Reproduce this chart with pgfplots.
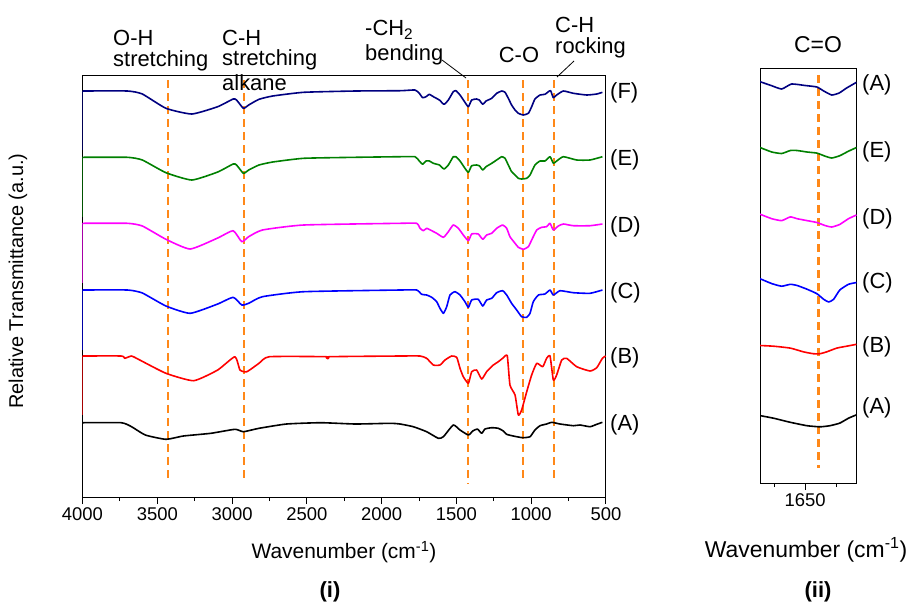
\documentclass[border=0pt]{standalone}
\usepackage{pgfplots}
\pgfplotsset{compat=1.18}
\usepackage{fontspec}
\setmainfont{Liberation Sans}
\definecolor{cF}{RGB}{0,0,128}
\definecolor{cE}{RGB}{0,128,0}
\definecolor{cD}{RGB}{255,0,255}
\definecolor{cC}{RGB}{0,0,255}
\definecolor{cB}{RGB}{255,0,0}
\definecolor{cA}{RGB}{0,0,0}
\definecolor{dorange}{RGB}{255,136,24}
\pgfplotsset{
  every axis/.append style={line width=1bp},
  spec/.style={line width=1.6bp, line join=round, smooth, tension=0.3},
  drop/.style={line width=1.6bp},
  peak/.style={dorange, line width=2.2bp, dash pattern=on 8bp off 5bp},
  tick label style={font=\fontsize{18.5}{18.5}\selectfont},
  /pgf/number format/assume math mode=true,
}
\begin{document}
\begin{tikzpicture}
\path[use as bounding box] (0,0) rectangle (914bp,-607bp);
% ---------- panel (i) ----------
\begin{axis}[at={(82.5bp,-75bp)}, anchor=north west, scale only axis,
  width=523.5bp, height=422bp,
  x dir=reverse, xmin=500, xmax=4000,
  y dir=reverse, ymin=75, ymax=497,
  xtick={500,1000,...,4000}, minor x tick num=1,
  xticklabel style={/pgf/number format/1000 sep={}},
  ytick=\empty, xtick pos=left, tick align=outside,
  major tick length=7bp, minor tick length=4bp,
  every tick/.style={black, line width=1bp}]
\addplot[peak] coordinates {(3430,80) (3430,479)};
\addplot[peak] coordinates {(2920,80) (2920,479)};
\addplot[peak] coordinates {(1420,80) (1420,484)};
\addplot[peak] coordinates {(1057,80) (1057,482)};
\addplot[peak] coordinates {(848,80) (848,482)};
% left-edge drops
\addplot[drop, cF] coordinates {(3999,150) (3999,91)};
\addplot[drop, cE] coordinates {(3999,217) (3999,157.3)};
\addplot[drop, cD] coordinates {(3999,283) (3999,223.3)};
\addplot[drop, cC] coordinates {(3999,350) (3999,290)};
\addplot[drop, cB] coordinates {(3999,415) (3999,356)};
\addplot[drop, cA] coordinates {(3999,482) (3999,422.7)};
% F
\addplot[spec, cF] coordinates {(3999,91) (3700,91) (3600,94) (3442,108.3) (3269,114) (3096,106.7) (2993,99) (2970,100) (2924,108.3) (2889,105) (2820,99.3) (2728,96) (2521,92.3) (2175,91) (1877,90.7) (1777,90) (1748,93.3) (1726,97.7) (1703,96.7) (1681,94.3) (1654,96.7) (1614,100) (1583,104.3) (1554,100) (1521,91.7) (1503,90.7) (1476,95) (1443,102.3) (1420,106.7) (1398,100) (1365,99) (1347,100) (1324,104.3) (1302,101) (1264,98.3) (1231,93.3) (1197,91) (1175,92.3) (1153,98.3) (1131,105) (1108,110) (1086,113.3) (1053,115) (1019,113.3) (997,106.7) (975,99) (941,95) (908,94.3) (885,91.7) (870,90.7) (852,97.7) (830,95) (785,91) (718,93.3) (629,95) (562,94) (524,92.3)};
% E
\addplot[spec, cE] coordinates {(3999,157.3) (3700,157.3) (3600,160) (3442,172.7) (3269,180) (3096,172) (2993,164) (2970,165) (2924,173.3) (2889,170) (2820,165) (2728,162) (2521,158.3) (2175,157.3) (1877,156.7) (1777,156.7) (1748,161) (1726,164.3) (1703,161) (1681,161) (1654,163.3) (1614,165) (1583,169) (1554,165) (1521,156.7) (1503,156.7) (1476,161) (1443,168.3) (1420,172.3) (1398,165.7) (1365,165) (1347,165.7) (1324,170) (1302,166.7) (1264,163.3) (1231,160) (1197,156.7) (1175,158.3) (1153,165) (1131,171.7) (1108,175) (1086,178.3) (1064,179) (1030,178.3) (1008,175) (975,165) (941,161) (908,161) (874,156.7) (852,163.3) (830,161) (785,156.7) (696,160) (607,160) (524,156.7)};
% D
\addplot[spec, cD] coordinates {(3999,223.3) (3700,223.3) (3600,226) (3442,239.3) (3280,249) (3096,238) (2993,230.7) (2935,241.7) (2889,236.7) (2797,230) (2521,225) (1877,223.3) (1766,223.3) (1743,228.3) (1721,230.7) (1699,228.3) (1665,230.7) (1632,233.3) (1587,237.3) (1554,231.7) (1521,225) (1487,228.3) (1454,235) (1420,240.7) (1398,234) (1354,234) (1324,239.3) (1298,235) (1264,233.3) (1231,228.3) (1191,225) (1164,228.3) (1142,236.7) (1108,243.3) (1086,247.3) (1053,249.3) (1019,246.7) (997,240) (963,230) (930,227.3) (897,226.7) (874,223.3) (852,230) (819,226) (785,224) (718,225.7) (607,225.7) (524,224)};
% C
\addplot[spec, cC] coordinates {(3999,290) (3700,290) (3600,293) (3442,306) (3280,313.3) (3096,304) (2993,297.3) (2935,305) (2889,303.3) (2797,296.7) (2521,291.7) (1877,290) (1766,290) (1732,294.3) (1699,295) (1665,297.3) (1632,301.7) (1610,308.3) (1587,313.3) (1565,306.7) (1543,295) (1510,291.7) (1476,295) (1443,301.7) (1420,307.3) (1398,300) (1354,299.3) (1324,306) (1298,300) (1264,298.3) (1231,292.7) (1191,290.7) (1164,295) (1131,303.3) (1097,310) (1064,316.7) (1030,317.3) (1008,313.3) (986,301.7) (952,295) (908,294) (874,290) (852,295) (807,290.7) (718,292.7) (607,293.3) (524,290)};
% B
\addplot[spec, cB] coordinates {(3999,356) (3741,356) (3718,358.3) (3672,356) (3626,359.3) (3442,373.3) (3257,380.7) (3096,370) (2981,356.7) (2947,370) (2901,371.7) (2820,363.3) (2751,356.7) (2371,356.7) (2360,358.7) (2350,356.7) (1877,356) (1743,356) (1699,358.3) (1654,365) (1610,365) (1576,360) (1532,356) (1498,357.3) (1476,368.3) (1454,376.7) (1420,383.3) (1398,371.7) (1365,370) (1331,379) (1298,371.7) (1253,365) (1220,361.7) (1186,357.7) (1160,355.7) (1142,385) (1108,395) (1086,415) (1064,410) (1030,391.7) (997,375) (963,363.3) (923,366.7) (897,358.3) (874,356) (852,380) (830,375) (796,360) (763,358.3) (696,366.7) (607,371) (562,367.7) (524,358.3) (502,356)};
% A
\addplot[spec, cA] coordinates {(3999,422.7) (3741,422.7) (3672,426.7) (3580,435) (3442,439.3) (3326,436) (3142,433.3) (2981,429.3) (2924,431.7) (2820,428.3) (2636,424) (2406,422.7) (2175,424) (1945,423.3) (1877,424) (1788,426.7) (1699,431.7) (1621,438.3) (1587,436.7) (1521,425) (1476,430) (1420,435) (1391,431) (1360,429) (1331,433.3) (1309,429) (1264,427.7) (1220,428.3) (1186,431) (1164,434.3) (1120,436) (1057,437.7) (1008,436.7) (975,430) (941,425.7) (897,424) (863,422.3) (807,424) (718,425.7) (674,425) (607,426.7) (562,424.3) (524,422.3)};
\end{axis}
% ---------- panel (ii) ----------
\begin{axis}[at={(760bp,-68bp)}, anchor=north west, scale only axis,
  width=96.5bp, height=415bp,
  x dir=reverse, xmin=1567, xmax=1723,
  y dir=reverse, ymin=68, ymax=483,
  xtick={1650}, minor xtick={1600,1700},
  xticklabel style={/pgf/number format/1000 sep={}},
  ytick=\empty, xtick pos=left, tick align=outside,
  major tick length=7bp, minor tick length=4bp,
  every tick/.style={black, line width=1bp}]
\addplot[peak] coordinates {(1628.5,75) (1628.5,468)};
\addplot[spec, cF] coordinates {(1723,81.7) (1705,85.5) (1688,89) (1672,84) (1650,85.5) (1631,87) (1620,91) (1607,95) (1595,93) (1583,88) (1567,82.3)};
\addplot[spec, cE] coordinates {(1723,147.5) (1704,152) (1688,153.5) (1674,150.5) (1663,150.5) (1647,152) (1631,153.1) (1618,156.1) (1607,158) (1594,155.7) (1580,151.2) (1567,147.5)};
\addplot[spec, cD] coordinates {(1723,214.2) (1704,218.7) (1688,220.6) (1674,216.9) (1663,218.7) (1647,220.6) (1631,222.5) (1618,225.5) (1607,227) (1594,224.4) (1580,218.7) (1567,215)};
\addplot[spec, cC] coordinates {(1723,278.7) (1704,283.6) (1688,286.2) (1674,284.3) (1663,285.5) (1647,289.2) (1631,293.7) (1620,299.3) (1612,302) (1604,299.3) (1594,290) (1580,284.3) (1567,282.5)};
\addplot[spec, cB] coordinates {(1723,345.5) (1701,346.2) (1674,348.1) (1653,351.8) (1637,353.7) (1626,353.7) (1615,351.8) (1599,348.1) (1583,346.2) (1567,344.3)};
\addplot[spec, cA] coordinates {(1723,415.6) (1701,418.2) (1674,422.3) (1647,425.7) (1626,426.8) (1610,425.7) (1594,423.1) (1580,418.2) (1567,414.8)};
\end{axis}
% ---------- texts ----------
\begin{scope}[every node/.style={inner sep=0pt, font=\fontsize{22}{24}\selectfont}]
\node[rotate=90, font=\fontsize{20}{22}\selectfont] at (18bp,-281bp) {Relative Transmittance (a.u.)};
\node[font=\fontsize{21}{23}\selectfont] at (344bp,-552bp) {Wavenumber (cm\textsuperscript{-1})};
\node[font=\fontsize{22}{24}\selectfont\bfseries] at (330bp,-592bp) {(i)};
\node[font=\fontsize{23}{25}\selectfont] at (806bp,-550bp) {Wavenumber (cm\textsuperscript{-1})};
\node[font=\fontsize{22}{24}\selectfont\bfseries] at (818bp,-592bp) {(ii)};
\node[font=\fontsize{23}{25}\selectfont] at (818bp,-45bp) {C=O};
% annotations
\node[anchor=west] at (113bp,-38bp) {O-H};
\node[anchor=west] at (113bp,-61bp) {stretching};
\node[anchor=west] at (222bp,-38bp) {C-H};
\node[anchor=west] at (222bp,-60bp) {stretching};
\node[anchor=west] at (222bp,-83bp) {alkane};
\node[anchor=west] at (365bp,-30bp) {-CH\textsubscript{2}};
\node[anchor=west] at (365bp,-55bp) {bending};
\node at (519bp,-55bp) {C-O};
\node[anchor=west] at (555bp,-25bp) {C-H};
\node[anchor=west] at (555bp,-48bp) {rocking};
% right labels (i)
\node[anchor=west] at (610bp,-93bp) {(F)};
\node[anchor=west] at (610bp,-160bp) {(E)};
\node[anchor=west] at (610bp,-227bp) {(D)};
\node[anchor=west] at (610bp,-293bp) {(C)};
\node[anchor=west] at (610bp,-358bp) {(B)};
\node[anchor=west] at (610bp,-425bp) {(A)};
% right labels (ii)
\node[anchor=west] at (862bp,-85bp) {(A)};
\node[anchor=west] at (862bp,-152bp) {(E)};
\node[anchor=west] at (862bp,-219bp) {(D)};
\node[anchor=west] at (862bp,-283bp) {(C)};
\node[anchor=west] at (862bp,-347bp) {(B)};
\node[anchor=west] at (862bp,-408bp) {(A)};
\end{scope}
\draw[line width=0.8bp] (442bp,-60bp) -- (466bp,-78bp);
\draw[line width=0.8bp] (574bp,-61bp) -- (557bp,-77bp);
\end{tikzpicture}
\end{document}
